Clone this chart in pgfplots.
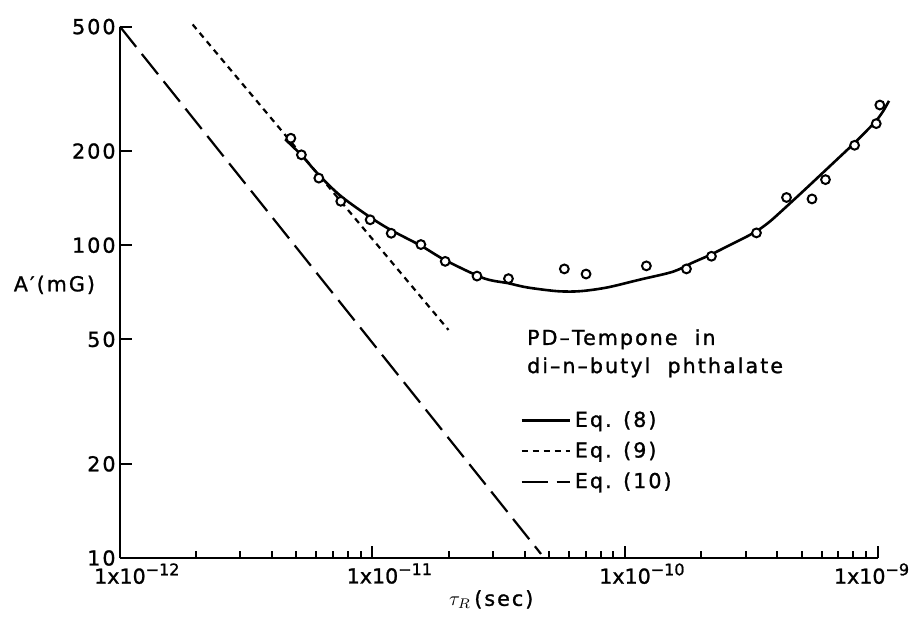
\documentclass[border=0pt]{standalone}
\usepackage{fontspec}
\setmainfont{DejaVu Sans}[LetterSpace=10, FakeBold=1.2]
\newfontfamily\tickfont{DejaVu Sans}[FakeBold=1.2]
\usepackage{pgfplots}
\pgfplotsset{compat=1.18}
\newcommand\mainfs{\fontsize{10.3pt}{12.4pt}\selectfont}
\newcommand\sx[1]{\rlap{\raisebox{4.2pt}{\fontsize{8pt}{9pt}\selectfont #1}}}
\newcommand\sy[1]{\raisebox{4.2pt}{\fontsize{8pt}{9pt}\selectfont #1}}
\begin{document}
\begin{tikzpicture}
\useasboundingbox (-60pt,-29.5pt) rectangle (398.5pt,279pt);
\begin{axis}[
  at={(0,0)}, anchor=south west,
  scale only axis, width=378.8pt, height=265.7pt,
  xmode=log, ymode=log,
  xmin=1e-12, xmax=1e-9, ymin=10, ymax=500,
  axis lines=left,
  axis line style={-, line width=1.2pt},
  clip=false,
  xtick={1e-12,1e-11,1e-10},
  xticklabels={1x10\sx{−12}, 1x10\sx{−11}, 1x10\sx{−10}},
  extra x ticks={1e-9},
  extra x tick labels={1x10\sy{−9}},
  extra x tick style={xticklabel style={xshift=-3pt}},
  minor xtick={2e-12,3e-12,4e-12,5e-12,6e-12,7e-12,8e-12,9e-12,
               2e-11,3e-11,4e-11,5e-11,6e-11,7e-11,8e-11,9e-11,
               2e-10,3e-10,4e-10,5e-10,6e-10,7e-10,8e-10,9e-10},
  ytick={10,20,50,100,200,500},
  yticklabels={10,20,50,100,200,500},
  yminorticks=false,
  tick align=inside,
  major tick length=6pt, minor tick length=3.5pt,
  every tick/.style={black, line width=1pt},
  tick label style={font=\mainfs},
  xticklabel style={inner sep=0pt, anchor=north, yshift=-2.5pt, font=\mainfs\tickfont},
  yticklabel style={inner sep=0pt, anchor=east, xshift=-2pt},
  legend style={draw=none, fill=none, at={(axis description cs:0.52,0.292)},
    anchor=north west, row sep=2pt, font=\mainfs},
  legend cell align=left,
  legend image code/.code={\draw[#1] (0pt,0pt) -- (24pt,0pt);},
]
% Eq. (8)
\addplot[black, line width=1.3pt, smooth, tension=0.5] coordinates {
(4.51e-12,218.1) (5.22e-12,194.5) (6.15e-12,167.3) (7.51e-12,143.4) (9.79e-12,122.9)
(1.186e-11,111.7) (1.56e-11,99.5) (1.94e-11,89.6) (2.75e-11,78.5) (3.45e-11,75.6)
(4.10e-11,73.3) (5.40e-11,71.3) (6.65e-11,71.3) (8.51e-11,73.3) (1.15e-10,77.7)
(1.549e-10,82.3) (1.842e-10,87.8) (2.191e-10,93.4) (2.605e-10,100.2) (3.07e-10,107.1)
(3.425e-10,112.8) (3.752e-10,119.2) (4.111e-10,127.3) (4.504e-10,136.2) (5.163e-10,150.8)
(5.918e-10,167.2) (6.912e-10,188.1) (8.07e-10,211.6) (9.004e-10,231.2) (9.865e-10,249.8)
(1.051e-9,267.9) (1.110e-9,289.4)};
\addlegendentry{Eq. (8)}
% Eq. (9)
\addplot[black, line width=1.1pt, dash pattern=on 3pt off 2.5pt] coordinates {
(1.94e-12,508) (2.0e-11,53.6)};
\addlegendentry{Eq. (9)}
% Eq. (10)
\addplot[black, line width=1.1pt, dash pattern=on 13pt off 4.5pt] coordinates {
(1e-12,500) (4.65e-11,10.3)};
\addlegendentry{Eq. (10)}
% data
\addplot[forget plot, only marks, mark=*, mark size=2.2pt,
  mark options={draw=black, fill=white, line width=1pt}] coordinates {
(4.75e-12,219.8) (5.23e-12,194.6) (6.13e-12,163.9) (7.49e-12,138.2) (9.79e-12,120.6)
(1.186e-11,109.2) (1.555e-11,100.5) (1.941e-11,88.8) (2.593e-11,79.7) (3.455e-11,78.2)
(5.75e-11,84.0) (7.01e-11,80.9) (1.215e-10,85.9) (1.751e-10,84.0) (2.199e-10,92.2)
(3.315e-10,109.5) (4.36e-10,142.1) (5.50e-10,140.6) (6.22e-10,162.1) (8.11e-10,208.7)
(9.88e-10,244.8) (1.021e-9,280.7)};
\node[font=\mainfs] at (axis description cs:-0.0865,0.514) {A′(mG)};
\node[font=\mainfs, anchor=base] at (axis description cs:0.49,-0.09) {$\tau_R$\,(sec)};
\node[anchor=base west, font=\mainfs, inner sep=0pt] at (axis description cs:0.537,0.401) {PD–Tempone\ \ in};
\node[anchor=base west, font=\mainfs, inner sep=0pt] at (axis description cs:0.537,0.348) {di–n–butyl\ \ phthalate};
\end{axis}
\end{tikzpicture}
\end{document}
